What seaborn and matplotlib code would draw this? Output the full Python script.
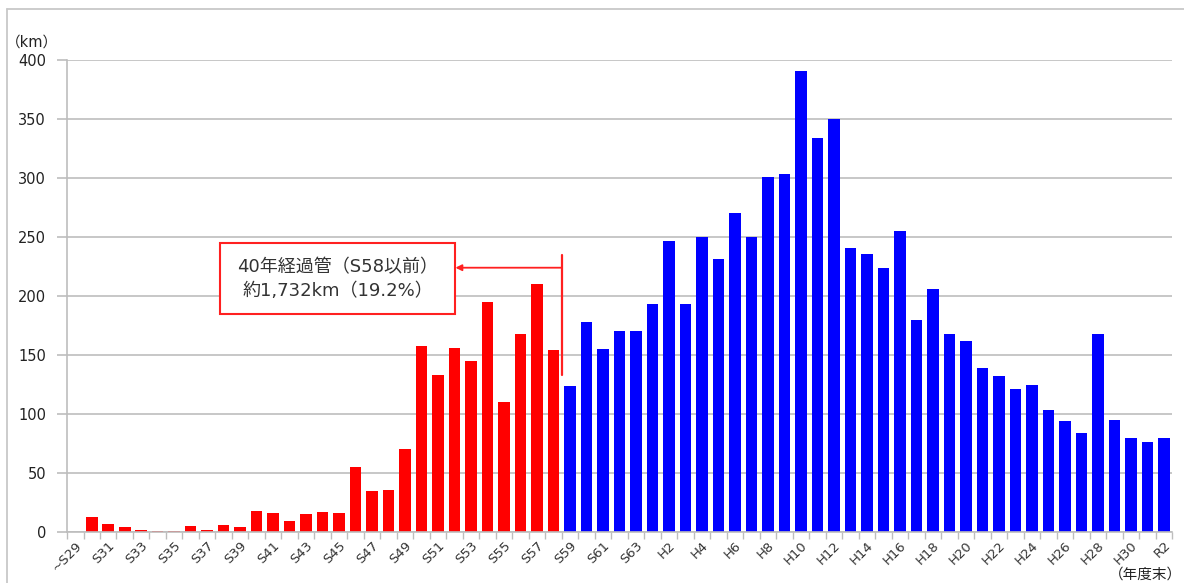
import matplotlib
matplotlib.use("Agg")
import matplotlib.pyplot as plt
from matplotlib.lines import Line2D
from matplotlib.patches import Rectangle
import seaborn as sns
import pandas as pd
import numpy as np

# Fiscal-year categories (Showa, Heisei, Reiwa)
years = ["~S29"] + [f"S{i}" for i in range(30, 64)] + [f"H{i}" for i in range(1, 31)] + ["R1", "R2"]

# Pipe length laid per year (km): up to S58 (40+ years old) and after
older_km = [0, 13, 7, 4, 2, 1, 1, 5, 2, 6,
            4, 18, 16, 9, 15, 17, 16, 55, 35, 36,
            70, 158, 133, 156, 145, 195, 110, 168, 210, 154]
newer_km = [124, 178, 155, 170, 170,
            193, 247, 193, 250, 231, 270, 250, 301, 303, 391,
            334, 350, 241, 236, 224, 255, 180, 206, 168, 162,
            139, 132, 121, 125, 103, 94, 84, 168, 95, 80,
            76, 80]

group_labels = ["old", "new"]
yticks = [0, 50, 100, 150, 200, 250, 300, 350, 400]
note_lines = ["40年経過管（S58以前）", "約1,732km（19.2%）"]

df = pd.DataFrame({
    "year": years,
    "km": older_km + newer_km,
    "group": [group_labels[0]] * len(older_km) + [group_labels[1]] * len(newer_km),
})

sns.set_theme(style="white")
plt.rcParams["font.family"] = ["DejaVu Sans", "Noto Sans CJK JP"]

fig = plt.figure(figsize=(11.84, 5.83), dpi=100)
ax = fig.add_axes([0.0566, 0.0875, 0.9333, 0.8095])

sns.barplot(data=df, x="year", y="km", hue="group", order=years,
            palette={"old": "#FF0000", "new": "#0000FF"},
            dodge=False, width=0.7, legend=False, saturation=1,
            linewidth=0, ax=ax)

n = len(years)
ax.set_xlim(-0.5, n - 0.5)
ax.set_ylim(0, 400)
ax.set_xlabel("")
ax.set_ylabel("")

# horizontal gridlines behind the bars
ax.set_axisbelow(True)
ax.set_yticks(yticks)
ax.yaxis.grid(True, color="#BDBDBD", linewidth=1.2)
ax.tick_params(axis="y", length=7, width=1.2, color="#BDBDBD", pad=8,
               labelsize=10.5, labelcolor="#222222", left=True)

# category labels every other year, ticks on category boundaries
label_pos = np.arange(0, n, 2)
ax.set_xticks(label_pos)
ax.set_xticklabels([years[i] for i in label_pos], rotation=45, ha="right",
                   va="top", rotation_mode="anchor", fontsize=9.5, color="#333333")
ax.tick_params(axis="x", which="major", length=0, pad=5)
ax.set_xticks(np.arange(-0.5, n, 1), minor=True)
ax.tick_params(axis="x", which="minor", length=5, width=1, color="#BDBDBD", bottom=True)

for side in ["top", "right"]:
    ax.spines[side].set_visible(False)
for side in ["left", "bottom"]:
    ax.spines[side].set_color("#BDBDBD")
    ax.spines[side].set_linewidth(1.2)

# 40-year boundary marker and note box
boundary = len(older_km) - 0.5
ax.plot([boundary, boundary], [133, 235], color="#FF2020", lw=1.6, zorder=5)
ax.annotate("", xy=(23.05, 224), xytext=(boundary, 224),
            arrowprops=dict(arrowstyle="-|>", color="#FF2020", lw=1.3,
                            mutation_scale=9, shrinkA=0, shrinkB=0),
            zorder=5)
ax.add_patch(Rectangle((8.8, 185), 14.2, 60, facecolor="white",
                       edgecolor="#FF2020", lw=1.5, zorder=4))
ax.text(15.9, 224, note_lines[0], ha="center", va="center", fontsize=13,
        color="#333333", zorder=6)
ax.text(15.9, 204, note_lines[1], ha="center", va="center", fontsize=13,
        color="#333333", zorder=6)

# unit labels
fig.text(6 / 1184, 1 - 42 / 583, "（km）", ha="left", va="center",
         fontsize=10.5, color="#222222")
fig.text(1182 / 1184, 1 / 583, "（年度末）", ha="right", va="bottom",
         fontsize=10.5, color="#222222")

# outer frame lines
fig.add_artist(Line2D([7 / 1184, 7 / 1184], [0, 1 - 9 / 583],
                      color="#C8C8C8", lw=1.3, transform=fig.transFigure))
fig.add_artist(Line2D([7 / 1184, 1], [1 - 9 / 583, 1 - 9 / 583],
                      color="#C8C8C8", lw=1.3, transform=fig.transFigure))

fig.savefig("out.png", dpi=100, facecolor="white")
